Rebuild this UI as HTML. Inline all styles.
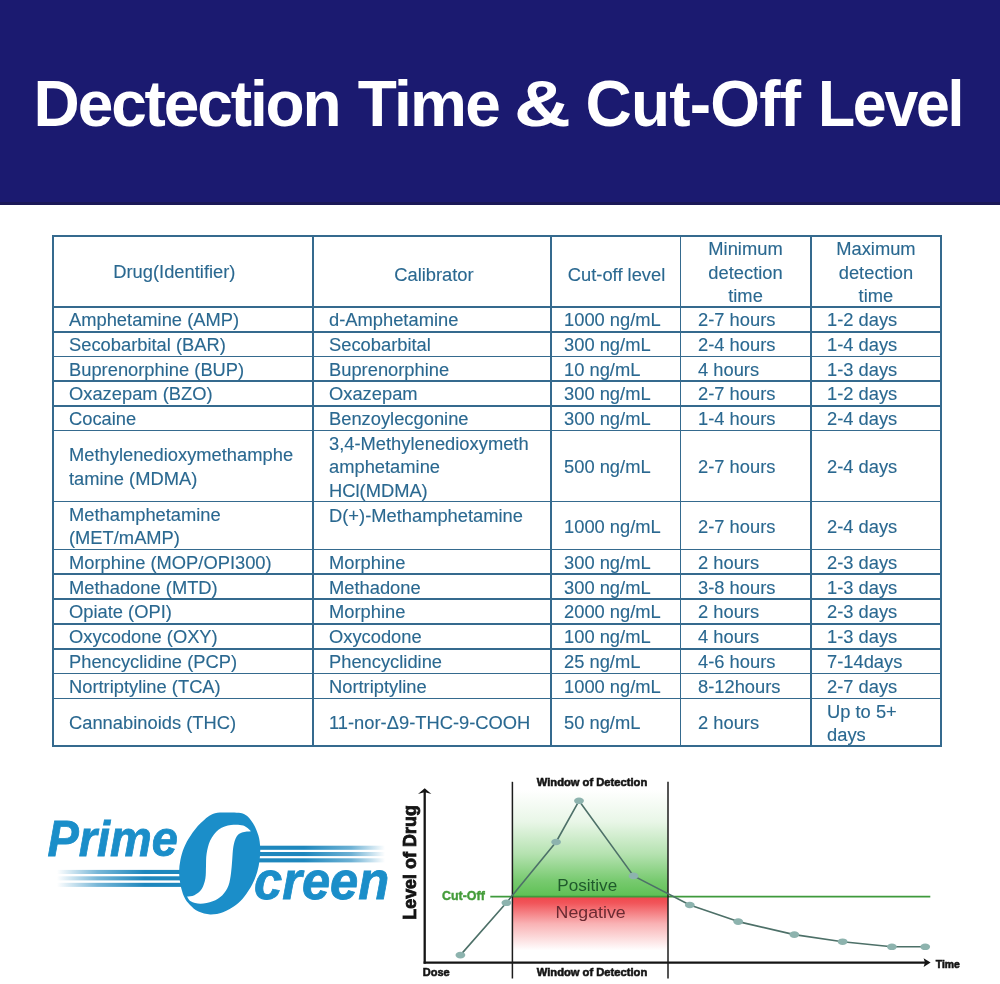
<!DOCTYPE html>
<html lang="en"><head><meta charset="utf-8"><title>Dectection Time &amp; Cut-Off Level</title>
<style>
html,body{margin:0;padding:0;background:#fff;}
body{width:1000px;height:984px;position:relative;overflow:hidden;font-family:"Liberation Sans",sans-serif;}
.hdr{position:absolute;left:0;top:0;width:1000px;height:204.6px;background:#1b1a70;}
.hdr i{position:absolute;left:0;bottom:0;width:1000px;height:3px;background:#1a1857;}
.tw{position:absolute;top:56px;height:96px;line-height:96px;font-size:64px;font-weight:bold;color:#fff;white-space:nowrap;transform-origin:0 50%;font-style:normal;}
.ln{position:absolute;background:#356a8e;}
.c{position:absolute;display:flex;align-items:center;color:#2a6890;font-size:17.5px;line-height:23.6px;white-space:nowrap;-webkit-text-stroke:0.12px #2a6890;}
.c span{display:inline-block;transform:scaleX(1.047);transform-origin:0 50%;}
.c.h{justify-content:center;text-align:center;}
.c.h span{transform-origin:50% 50%;}
.c.t{align-items:flex-start;padding-top:2px;}
</style></head><body>
<div class="hdr"><i></i></div>

<div class="tw" style="left:33.6px;letter-spacing:-2.13px">Dectection</div>
<div class="tw" style="left:357.8px;letter-spacing:-1.73px">Time</div>
<div class="tw" style="left:514.3px;transform:scaleX(1.23)">&amp;</div>
<div class="tw" style="left:585.6px;letter-spacing:-0.8px">Cut-Off</div>
<div class="tw" style="left:818.4px;letter-spacing:-2.4px;transform:scaleX(0.95)">Level</div>

<div class="ln" style="left:52.02px;top:235.42px;width:889.55px;height:1.55px"></div>
<div class="ln" style="left:52.02px;top:306.23px;width:889.55px;height:1.55px"></div>
<div class="ln" style="left:52.02px;top:331.03px;width:889.55px;height:1.55px"></div>
<div class="ln" style="left:52.02px;top:355.53px;width:889.55px;height:1.55px"></div>
<div class="ln" style="left:52.02px;top:380.23px;width:889.55px;height:1.55px"></div>
<div class="ln" style="left:52.02px;top:405.03px;width:889.55px;height:1.55px"></div>
<div class="ln" style="left:52.02px;top:429.73px;width:889.55px;height:1.55px"></div>
<div class="ln" style="left:52.02px;top:500.73px;width:889.55px;height:1.55px"></div>
<div class="ln" style="left:52.02px;top:548.73px;width:889.55px;height:1.55px"></div>
<div class="ln" style="left:52.02px;top:573.43px;width:889.55px;height:1.55px"></div>
<div class="ln" style="left:52.02px;top:598.23px;width:889.55px;height:1.55px"></div>
<div class="ln" style="left:52.02px;top:623.02px;width:889.55px;height:1.55px"></div>
<div class="ln" style="left:52.02px;top:648.02px;width:889.55px;height:1.55px"></div>
<div class="ln" style="left:52.02px;top:672.83px;width:889.55px;height:1.55px"></div>
<div class="ln" style="left:52.02px;top:697.62px;width:889.55px;height:1.55px"></div>
<div class="ln" style="left:52.02px;top:745.23px;width:889.55px;height:1.55px"></div>
<div class="ln" style="left:52.02px;top:235.42px;width:1.55px;height:511.35px"></div>
<div class="ln" style="left:312.23px;top:235.42px;width:1.55px;height:511.35px"></div>
<div class="ln" style="left:550.43px;top:235.42px;width:1.55px;height:511.35px"></div>
<div class="ln" style="left:679.83px;top:235.42px;width:1.55px;height:511.35px"></div>
<div class="ln" style="left:810.23px;top:235.42px;width:1.55px;height:511.35px"></div>
<div class="ln" style="left:940.02px;top:235.42px;width:1.55px;height:511.35px"></div>
<div class="c h" style="left:44.5px;top:237.4px;width:260.2px;height:70.8px"><span>Drug(Identifier)</span></div>
<div class="c h" style="left:314.8px;top:240.0px;width:238.2px;height:70.8px"><span>Calibrator</span></div>
<div class="c h" style="left:551.8px;top:240.8px;width:129.4px;height:70.8px"><span>Cut-off level</span></div>
<div class="c h" style="left:680.6px;top:238.3px;width:130.4px;height:70.8px"><span>Minimum<br>detection<br>time</span></div>
<div class="c h" style="left:811.0px;top:238.3px;width:129.8px;height:70.8px"><span>Maximum<br>detection<br>time</span></div>
<div class="c" style="left:68.7px;top:308.9px;height:24.8px"><span>Amphetamine (AMP)</span></div>
<div class="c" style="left:328.6px;top:308.9px;height:24.8px"><span>d-Amphetamine</span></div>
<div class="c" style="left:564.2px;top:308.9px;height:24.8px"><span>1000 ng/mL</span></div>
<div class="c" style="left:697.5px;top:308.9px;height:24.8px"><span>2-7 hours</span></div>
<div class="c" style="left:827.1px;top:308.9px;height:24.8px"><span>1-2 days</span></div>
<div class="c" style="left:68.7px;top:333.7px;height:24.5px"><span>Secobarbital (BAR)</span></div>
<div class="c" style="left:328.6px;top:333.7px;height:24.5px"><span>Secobarbital</span></div>
<div class="c" style="left:564.2px;top:333.7px;height:24.5px"><span>300 ng/mL</span></div>
<div class="c" style="left:697.5px;top:333.7px;height:24.5px"><span>2-4 hours</span></div>
<div class="c" style="left:827.1px;top:333.7px;height:24.5px"><span>1-4 days</span></div>
<div class="c" style="left:68.7px;top:358.2px;height:24.7px"><span>Buprenorphine (BUP)</span></div>
<div class="c" style="left:328.6px;top:358.2px;height:24.7px"><span>Buprenorphine</span></div>
<div class="c" style="left:564.2px;top:358.2px;height:24.7px"><span>10 ng/mL</span></div>
<div class="c" style="left:697.5px;top:358.2px;height:24.7px"><span>4 hours</span></div>
<div class="c" style="left:827.1px;top:358.2px;height:24.7px"><span>1-3 days</span></div>
<div class="c" style="left:68.7px;top:382.9px;height:24.8px"><span>Oxazepam (BZO)</span></div>
<div class="c" style="left:328.6px;top:382.9px;height:24.8px"><span>Oxazepam</span></div>
<div class="c" style="left:564.2px;top:382.9px;height:24.8px"><span>300 ng/mL</span></div>
<div class="c" style="left:697.5px;top:382.9px;height:24.8px"><span>2-7 hours</span></div>
<div class="c" style="left:827.1px;top:382.9px;height:24.8px"><span>1-2 days</span></div>
<div class="c" style="left:68.7px;top:407.7px;height:24.7px"><span>Cocaine</span></div>
<div class="c" style="left:328.6px;top:407.7px;height:24.7px"><span>Benzoylecgonine</span></div>
<div class="c" style="left:564.2px;top:407.7px;height:24.7px"><span>300 ng/mL</span></div>
<div class="c" style="left:697.5px;top:407.7px;height:24.7px"><span>1-4 hours</span></div>
<div class="c" style="left:827.1px;top:407.7px;height:24.7px"><span>2-4 days</span></div>
<div class="c" style="left:68.7px;top:432.4px;height:71.0px"><span>Methylenedioxymethamphe<br>tamine (MDMA)</span></div>
<div class="c" style="left:328.6px;top:432.4px;height:71.0px"><span>3,4-Methylenedioxymeth<br>amphetamine<br>HCl(MDMA)</span></div>
<div class="c" style="left:564.2px;top:432.4px;height:71.0px"><span>500 ng/mL</span></div>
<div class="c" style="left:697.5px;top:432.4px;height:71.0px"><span>2-7 hours</span></div>
<div class="c" style="left:827.1px;top:432.4px;height:71.0px"><span>2-4 days</span></div>
<div class="c" style="left:68.7px;top:503.4px;height:48.0px"><span>Methamphetamine<br>(MET/mAMP)</span></div>
<div class="c t" style="left:328.6px;top:503.4px;height:48.0px"><span>D(+)-Methamphetamine</span></div>
<div class="c" style="left:564.2px;top:503.4px;height:48.0px"><span>1000 ng/mL</span></div>
<div class="c" style="left:697.5px;top:503.4px;height:48.0px"><span>2-7 hours</span></div>
<div class="c" style="left:827.1px;top:503.4px;height:48.0px"><span>2-4 days</span></div>
<div class="c" style="left:68.7px;top:551.4px;height:24.7px"><span>Morphine (MOP/OPI300)</span></div>
<div class="c" style="left:328.6px;top:551.4px;height:24.7px"><span>Morphine</span></div>
<div class="c" style="left:564.2px;top:551.4px;height:24.7px"><span>300 ng/mL</span></div>
<div class="c" style="left:697.5px;top:551.4px;height:24.7px"><span>2 hours</span></div>
<div class="c" style="left:827.1px;top:551.4px;height:24.7px"><span>2-3 days</span></div>
<div class="c" style="left:68.7px;top:576.1px;height:24.8px"><span>Methadone (MTD)</span></div>
<div class="c" style="left:328.6px;top:576.1px;height:24.8px"><span>Methadone</span></div>
<div class="c" style="left:564.2px;top:576.1px;height:24.8px"><span>300 ng/mL</span></div>
<div class="c" style="left:697.5px;top:576.1px;height:24.8px"><span>3-8 hours</span></div>
<div class="c" style="left:827.1px;top:576.1px;height:24.8px"><span>1-3 days</span></div>
<div class="c" style="left:68.7px;top:600.9px;height:24.8px"><span>Opiate (OPI)</span></div>
<div class="c" style="left:328.6px;top:600.9px;height:24.8px"><span>Morphine</span></div>
<div class="c" style="left:564.2px;top:600.9px;height:24.8px"><span>2000 ng/mL</span></div>
<div class="c" style="left:697.5px;top:600.9px;height:24.8px"><span>2 hours</span></div>
<div class="c" style="left:827.1px;top:600.9px;height:24.8px"><span>2-3 days</span></div>
<div class="c" style="left:68.7px;top:625.7px;height:25.0px"><span>Oxycodone (OXY)</span></div>
<div class="c" style="left:328.6px;top:625.7px;height:25.0px"><span>Oxycodone</span></div>
<div class="c" style="left:564.2px;top:625.7px;height:25.0px"><span>100 ng/mL</span></div>
<div class="c" style="left:697.5px;top:625.7px;height:25.0px"><span>4 hours</span></div>
<div class="c" style="left:827.1px;top:625.7px;height:25.0px"><span>1-3 days</span></div>
<div class="c" style="left:68.7px;top:650.7px;height:24.8px"><span>Phencyclidine (PCP)</span></div>
<div class="c" style="left:328.6px;top:650.7px;height:24.8px"><span>Phencyclidine</span></div>
<div class="c" style="left:564.2px;top:650.7px;height:24.8px"><span>25 ng/mL</span></div>
<div class="c" style="left:697.5px;top:650.7px;height:24.8px"><span>4-6 hours</span></div>
<div class="c" style="left:827.1px;top:650.7px;height:24.8px"><span>7-14days</span></div>
<div class="c" style="left:68.7px;top:675.5px;height:24.8px"><span>Nortriptyline (TCA)</span></div>
<div class="c" style="left:328.6px;top:675.5px;height:24.8px"><span>Nortriptyline</span></div>
<div class="c" style="left:564.2px;top:675.5px;height:24.8px"><span>1000 ng/mL</span></div>
<div class="c" style="left:697.5px;top:675.5px;height:24.8px"><span>8-12hours</span></div>
<div class="c" style="left:827.1px;top:675.5px;height:24.8px"><span>2-7 days</span></div>
<div class="c" style="left:68.7px;top:700.3px;height:47.6px"><span>Cannabinoids (THC)</span></div>
<div class="c" style="left:328.6px;top:700.3px;height:47.6px"><span>11-nor-Δ9-THC-9-COOH</span></div>
<div class="c" style="left:564.2px;top:700.3px;height:47.6px"><span>50 ng/mL</span></div>
<div class="c" style="left:697.5px;top:700.3px;height:47.6px"><span>2 hours</span></div>
<div class="c" style="left:827.1px;top:700.3px;height:47.6px"><span>Up to 5+<br>days</span></div>
<svg style="position:absolute;left:0;top:760px" width="1000" height="224" viewBox="0 760 1000 224">
<defs>
<linearGradient id="gl" x1="0" x2="1" y1="0" y2="0"><stop offset="0" stop-color="#1e87bd" stop-opacity="0"/><stop offset="0.3" stop-color="#1e87bd" stop-opacity="0.6"/><stop offset="0.65" stop-color="#1e87bd" stop-opacity="1"/></linearGradient>
<linearGradient id="gr" x1="0" x2="1" y1="0" y2="0"><stop offset="0.4" stop-color="#1e87bd" stop-opacity="1"/><stop offset="0.75" stop-color="#1e87bd" stop-opacity="0.65"/><stop offset="1" stop-color="#1e87bd" stop-opacity="0"/></linearGradient>
<linearGradient id="gg" x1="0" x2="0" y1="0" y2="1"><stop offset="0" stop-color="#5ec054" stop-opacity="0"/><stop offset="0.3" stop-color="#5ec054" stop-opacity="0.14"/><stop offset="0.6" stop-color="#5ec054" stop-opacity="0.46"/><stop offset="0.85" stop-color="#5ec054" stop-opacity="0.84"/><stop offset="1" stop-color="#5ec054" stop-opacity="1"/></linearGradient>
<linearGradient id="grd" x1="0" x2="0" y1="0" y2="1"><stop offset="0" stop-color="#f0464b" stop-opacity="1"/><stop offset="0.12" stop-color="#f0464b" stop-opacity="0.92"/><stop offset="0.5" stop-color="#f0464b" stop-opacity="0.42"/><stop offset="1" stop-color="#f0464b" stop-opacity="0"/></linearGradient>
</defs>
<g id="logo">
<rect x="57" y="869.9" width="135" height="4.1" fill="url(#gl)"/>
<rect x="57" y="876.3" width="135" height="4.1" fill="url(#gl)"/>
<rect x="57" y="882.8" width="135" height="4.1" fill="url(#gl)"/>
<rect x="250" y="845.7" width="135" height="4.1" fill="url(#gr)"/>
<rect x="250" y="852.0" width="135" height="4.1" fill="url(#gr)"/>
<rect x="250" y="858.3" width="135" height="4.1" fill="url(#gr)"/>
<path fill="#1b8ec9" d="M212.7 813.9 C208.1 815.7 204.2 819.7 200.5 823.3 C196.8 826.9 193.4 831.4 190.7 835.5 C187.9 839.6 185.7 843.6 184.0 847.7 C182.3 851.8 181.2 855.9 180.4 859.9 C179.6 863.9 179.1 867.9 179.1 872.0 C179.1 876.1 179.6 880.2 180.4 884.3 C181.2 888.4 182.4 893.0 184.0 896.5 C185.6 900.0 187.6 902.5 190.0 905.0 C192.4 907.5 195.1 910.0 198.5 911.6 C201.9 913.2 206.1 914.3 210.2 914.4 C214.3 914.5 218.7 913.8 223.0 912.2 C227.3 910.6 232.3 907.6 235.9 905.0 C239.5 902.4 241.7 900.0 244.4 896.5 C247.1 893.0 250.2 888.4 252.3 884.3 C254.4 880.2 256.0 876.1 257.2 872.0 C258.4 867.9 259.1 863.9 259.6 859.9 C260.1 855.9 260.4 851.8 260.2 847.7 C260.0 843.6 259.6 839.6 258.4 835.5 C257.2 831.4 255.3 826.8 253.0 823.3 C250.7 819.8 248.6 816.0 244.4 814.2 C240.2 812.4 233.3 812.7 228.0 812.6 C222.7 812.5 217.3 812.1 212.7 813.9 Z"/>
<path fill="#fff" d="M251.1 831.2 C249.8 830.3 246.5 826.6 243.2 825.6 C239.8 824.6 235.1 824.5 231.0 825.1 C226.9 825.7 222.3 826.9 218.8 829.4 C215.3 831.9 212.2 836.3 210.2 840.4 C208.2 844.5 207.3 849.5 206.6 853.8 C205.9 858.1 206.2 861.9 206.0 866.0 C205.8 870.1 206.1 874.4 205.4 878.2 C204.7 882.1 203.5 886.3 201.7 889.1 C199.9 891.9 196.8 894.0 194.4 895.2 C192.0 896.4 188.3 896.3 187.1 896.5 C187.7 897.3 188.5 900.1 190.7 901.3 C192.9 902.5 196.8 903.8 200.5 903.8 C204.2 903.8 209.0 902.7 212.7 901.3 C216.3 899.9 219.8 897.8 222.4 895.2 C225.0 892.6 227.1 889.1 228.5 885.5 C229.9 881.9 230.4 877.6 231.0 873.3 C231.6 869.0 231.8 864.4 232.2 859.9 C232.6 855.4 232.7 850.4 233.4 846.5 C234.1 842.6 235.1 839.1 236.5 836.7 C237.9 834.4 239.6 833.3 242.0 832.4 C244.4 831.5 249.6 831.4 251.1 831.2 Z"/>
<text transform="translate(47.4 856.0) scale(0.95 1)" font-family="'Liberation Sans',sans-serif" font-size="49.4" font-weight="bold" font-style="italic" fill="#1b8ec9" stroke="#1b8ec9" stroke-width="0.8">Prime</text>
<text transform="translate(254.0 899.0) scale(0.984 1)" font-family="'Liberation Sans',sans-serif" font-size="51.5" font-weight="bold" font-style="italic" fill="#1b8ec9" stroke="#1b8ec9" stroke-width="0.8">creen</text>
</g>
<g id="chart">
<rect x="512.4" y="790" width="155.6" height="106.5" fill="url(#gg)"/>
<rect x="512.4" y="896.5" width="155.6" height="54" fill="url(#grd)"/>
<line x1="490.3" y1="896.6" x2="930.3" y2="896.6" stroke="#3f9a3c" stroke-width="1.8"/>
<line x1="424.7" y1="791" x2="424.7" y2="963.7" stroke="#141414" stroke-width="2.3"/>
<line x1="423.6" y1="962.6" x2="926" y2="962.6" stroke="#141414" stroke-width="2.2"/>
<path d="M424.7 788.2 L431.4 794 L426 792.6 L423.4 792.6 L418 794 Z" fill="#141414"/>
<path d="M930.6 962.6 L923.6 958.2 L925 962.6 L923.6 967 Z" fill="#141414"/>
<line x1="512.4" y1="781.8" x2="512.4" y2="978.5" stroke="#1c1c1c" stroke-width="1.5"/>
<line x1="668" y1="781.8" x2="668" y2="978.5" stroke="#1c1c1c" stroke-width="1.5"/>
<polyline points="460.4,955.1 506.4,902.8 556.1,842 579,800.8 633.5,875.9 689.8,905 738.2,921.6 794.3,934.6 842.6,941.7 891.9,946.8 925.2,946.8" fill="none" stroke="#4d7068" stroke-width="1.6" stroke-linejoin="round"/>
<ellipse cx="460.4" cy="955.1" rx="4.9" ry="3.3" fill="#8db3ae"/>
<ellipse cx="506.4" cy="902.8" rx="4.9" ry="3.3" fill="#8db3ae"/>
<ellipse cx="556.1" cy="842" rx="4.9" ry="3.3" fill="#8db3ae"/>
<ellipse cx="579" cy="800.8" rx="4.9" ry="3.3" fill="#8db3ae"/>
<ellipse cx="633.5" cy="875.9" rx="4.9" ry="3.3" fill="#8db3ae"/>
<ellipse cx="689.8" cy="905" rx="4.9" ry="3.3" fill="#8db3ae"/>
<ellipse cx="738.2" cy="921.6" rx="4.9" ry="3.3" fill="#8db3ae"/>
<ellipse cx="794.3" cy="934.6" rx="4.9" ry="3.3" fill="#8db3ae"/>
<ellipse cx="842.6" cy="941.7" rx="4.9" ry="3.3" fill="#8db3ae"/>
<ellipse cx="891.9" cy="946.8" rx="4.9" ry="3.3" fill="#8db3ae"/>
<ellipse cx="925.2" cy="946.8" rx="4.9" ry="3.3" fill="#8db3ae"/>
<text id="wt" transform="translate(592 786) scale(1.057 1)" text-anchor="middle" font-family="'Liberation Sans',sans-serif" font-size="10.6" font-weight="bold" fill="#141414" stroke="#141414" stroke-width="0.55">Window of Detection</text>
<text id="wb" transform="translate(592 976.1) scale(1.057 1)" text-anchor="middle" font-family="'Liberation Sans',sans-serif" font-size="10.6" font-weight="bold" fill="#141414" stroke="#141414" stroke-width="0.55">Window of Detection</text>
<text id="dose" transform="translate(422.8 976.1) scale(1.04 1)" font-family="'Liberation Sans',sans-serif" font-size="10.6" font-weight="bold" fill="#141414" stroke="#141414" stroke-width="0.55">Dose</text>
<text id="time" x="935.8" y="968.2" font-family="'Liberation Sans',sans-serif" font-size="10.4" font-weight="bold" fill="#141414" stroke="#141414" stroke-width="0.55">Time</text>
<text id="cut" transform="translate(442 899.7) scale(1.003 1)" font-family="'Liberation Sans',sans-serif" font-size="12.4" font-weight="bold" fill="#449c3a" stroke="#449c3a" stroke-width="0.4">Cut-Off</text>
<text id="pos" transform="translate(557.3 890.8) scale(1.03 1)" font-family="'Liberation Sans',sans-serif" font-size="16.6" fill="#1f5a2c">Positive</text>
<text id="neg" transform="translate(555.6 917.6) scale(1.045 1)" font-family="'Liberation Sans',sans-serif" font-size="17" fill="#6a2a32">Negative</text>
<text id="lvl" transform="translate(415.6 919.8) rotate(-90) scale(0.997 1)" font-family="'Liberation Sans',sans-serif" font-size="18" font-weight="bold" fill="#141414" stroke="#141414" stroke-width="0.8">Level of Drug</text>
</g>
</svg>


</body></html>
